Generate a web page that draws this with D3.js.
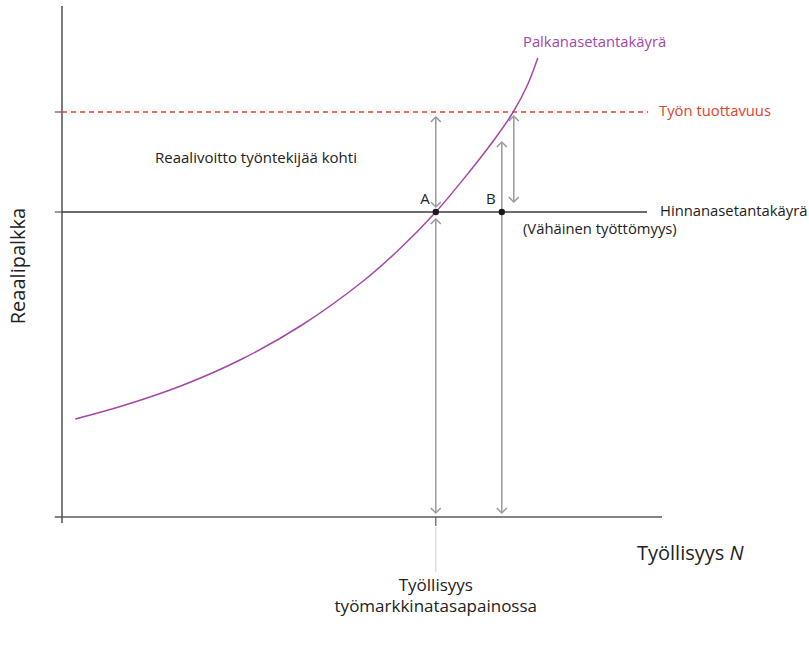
<!DOCTYPE html>
<html>
<head>
<meta charset="utf-8">
<script src="https://cdn.jsdelivr.net/npm/d3@7"></script>
<style>
  body { margin: 0; background: #fff; }
  svg { display: block; font-family: "Open Sans", "Noto Sans", sans-serif; }
</style>
</head>
<body>
<svg id="chart" width="809" height="650"></svg>
<script>
// ---- data ----
const wageSettingN = [2.2, 10, 20, 30, 40, 50, 56, 62.3, 68, 72, 75.2, 77.5, 79.3];
const wageSettingW = [19.6, 22.2, 26.3, 31.6, 38.4, 47.0, 53.3, 61, 69.2, 75.4, 81, 86.2, 91.8];
const priceSettingW = 61;
const productivityW = 81;
const equilibriumN = 62.3;
const pointBN = 73.3;
const labels = {
  yAxis: "Reaalipalkka",
  xAxis: "Työllisyys",
  xAxisVar: "N",
  wage: "Palkanasetantakäyrä",
  prod: "Työn tuottavuus",
  price: "Hinnanasetantakäyrä",
  priceSub: "(Vähäinen työttömyys)",
  profit: "Reaalivoitto työntekijää kohti",
  eq1: "Työllisyys",
  eq2: "työmarkkinatasapainossa",
  A: "A",
  B: "B"
};

const svg = d3.select("#chart");
const x = d3.scaleLinear().domain([0, 100]).range([62, 662]);
const y = d3.scaleLinear().domain([0, 100]).range([517, 17]);

const axisColor = "#5a5a5a";
const purple = "#a447a6";
const red = "#e2412a";
const arrowGray = "#9a9a9a";

const defs = svg.append("defs");
defs.append("marker").attr("id", "arr")
  .attr("viewBox", "-6 -6 12 12").attr("markerWidth", 12).attr("markerHeight", 12)
  .attr("markerUnits", "userSpaceOnUse").attr("orient", "auto-start-reverse")
  .attr("refX", 0).attr("refY", 0)
  .append("path").attr("d", "M-5,-5 L0,0 L-5,5").attr("fill", "none")
  .attr("stroke", arrowGray).attr("stroke-width", 1.5);

// axes
svg.append("line").attr("x1", x(0)).attr("x2", x(0)).attr("y1", y(102.2)).attr("y2", y(-1.2))
  .attr("stroke", axisColor).attr("stroke-width", 1.6);
svg.append("line").attr("x1", x(-1.2)).attr("x2", x(100)).attr("y1", y(0)).attr("y2", y(0))
  .attr("stroke", axisColor).attr("stroke-width", 1.6);
[productivityW, priceSettingW].forEach(v => {
  svg.append("line").attr("x1", x(-1.2)).attr("x2", x(0)).attr("y1", y(v)).attr("y2", y(v))
    .attr("stroke", axisColor).attr("stroke-width", 1.2);
});
svg.append("line").attr("x1", x(equilibriumN)).attr("x2", x(equilibriumN))
  .attr("y1", y(0)).attr("y2", y(-1.8)).attr("stroke", axisColor).attr("stroke-width", 1.2);
svg.append("line").attr("x1", x(equilibriumN)).attr("x2", x(equilibriumN))
  .attr("y1", y(-2)).attr("y2", y(-11)).attr("stroke", "#cfcfcf").attr("stroke-width", 1);

// productivity (dashed red)
svg.append("line").attr("x1", x(0)).attr("x2", x(97.7)).attr("y1", y(productivityW)).attr("y2", y(productivityW))
  .attr("stroke", red).attr("stroke-width", 1.3).attr("stroke-dasharray", "5,4");
// price-setting curve
svg.append("line").attr("x1", x(0)).attr("x2", x(97.5)).attr("y1", y(priceSettingW)).attr("y2", y(priceSettingW))
  .attr("stroke", "#3a3a3a").attr("stroke-width", 1.4);

function vArrow(n, w1, w2) {
  svg.append("line").attr("x1", x(n)).attr("x2", x(n)).attr("y1", y(w1)).attr("y2", y(w2))
    .attr("stroke", arrowGray).attr("stroke-width", 1.5)
    .attr("marker-start", "url(#arr)").attr("marker-end", "url(#arr)");
}
vArrow(equilibriumN, 80, 62);
vArrow(equilibriumN, 59.6, 0.8);
vArrow(pointBN, 75, 0.8);
vArrow(75.3, 80.2, 63);

// wage-setting curve
const wsData = wageSettingN.map((n, i) => ({ n, w: wageSettingW[i] }));
svg.append("path").datum(wsData)
  .attr("d", d3.line().x(d => x(d.n)).y(d => y(d.w)).curve(d3.curveCatmullRom.alpha(0.5)))
  .attr("fill", "none").attr("stroke", purple).attr("stroke-width", 1.5);

[equilibriumN, pointBN].forEach(n => {
  svg.append("circle").attr("cx", x(n)).attr("cy", y(priceSettingW)).attr("r", 3.2).attr("fill", "#1a1a1a");
});

const t = (txt, px, py, opts = {}) => svg.append("text").attr("x", px).attr("y", py)
  .attr("font-size", opts.size || 14.5).attr("fill", opts.fill || "#222")
  .attr("text-anchor", opts.anchor || "start").attr("dominant-baseline", "middle").text(txt);

t(labels.A, x(equilibriumN) - 6, y(priceSettingW) - 12, { anchor: "end", size: 15 });
t(labels.B, x(pointBN) - 6, y(priceSettingW) - 12, { anchor: "end", size: 15 });
t(labels.profit, 155, 159, { size: 15 });
t(labels.wage, 523, 43, { fill: purple, size: 14.8 });
t(labels.prod, 659, y(productivityW), { fill: red, size: 14.8 });
t(labels.price, 660, y(priceSettingW), { size: 14.8 });
t(labels.priceSub, 523, 230, { size: 14.8 });
t(labels.eq1, x(equilibriumN), 586, { anchor: "middle", size: 17 });
t(labels.eq2, x(equilibriumN), 607, { anchor: "middle", size: 17 });

const xl = svg.append("text").attr("x", 637).attr("y", 555).attr("font-size", 20)
  .attr("fill", "#222").attr("dominant-baseline", "middle");
xl.append("tspan").text(labels.xAxis + " ");
xl.append("tspan").attr("font-style", "italic").text(labels.xAxisVar);

svg.append("text").attr("transform", "translate(25,266) rotate(-90)")
  .attr("text-anchor", "middle").attr("font-size", 20).attr("fill", "#222")
  .text(labels.yAxis);
</script>
</body>
</html>
